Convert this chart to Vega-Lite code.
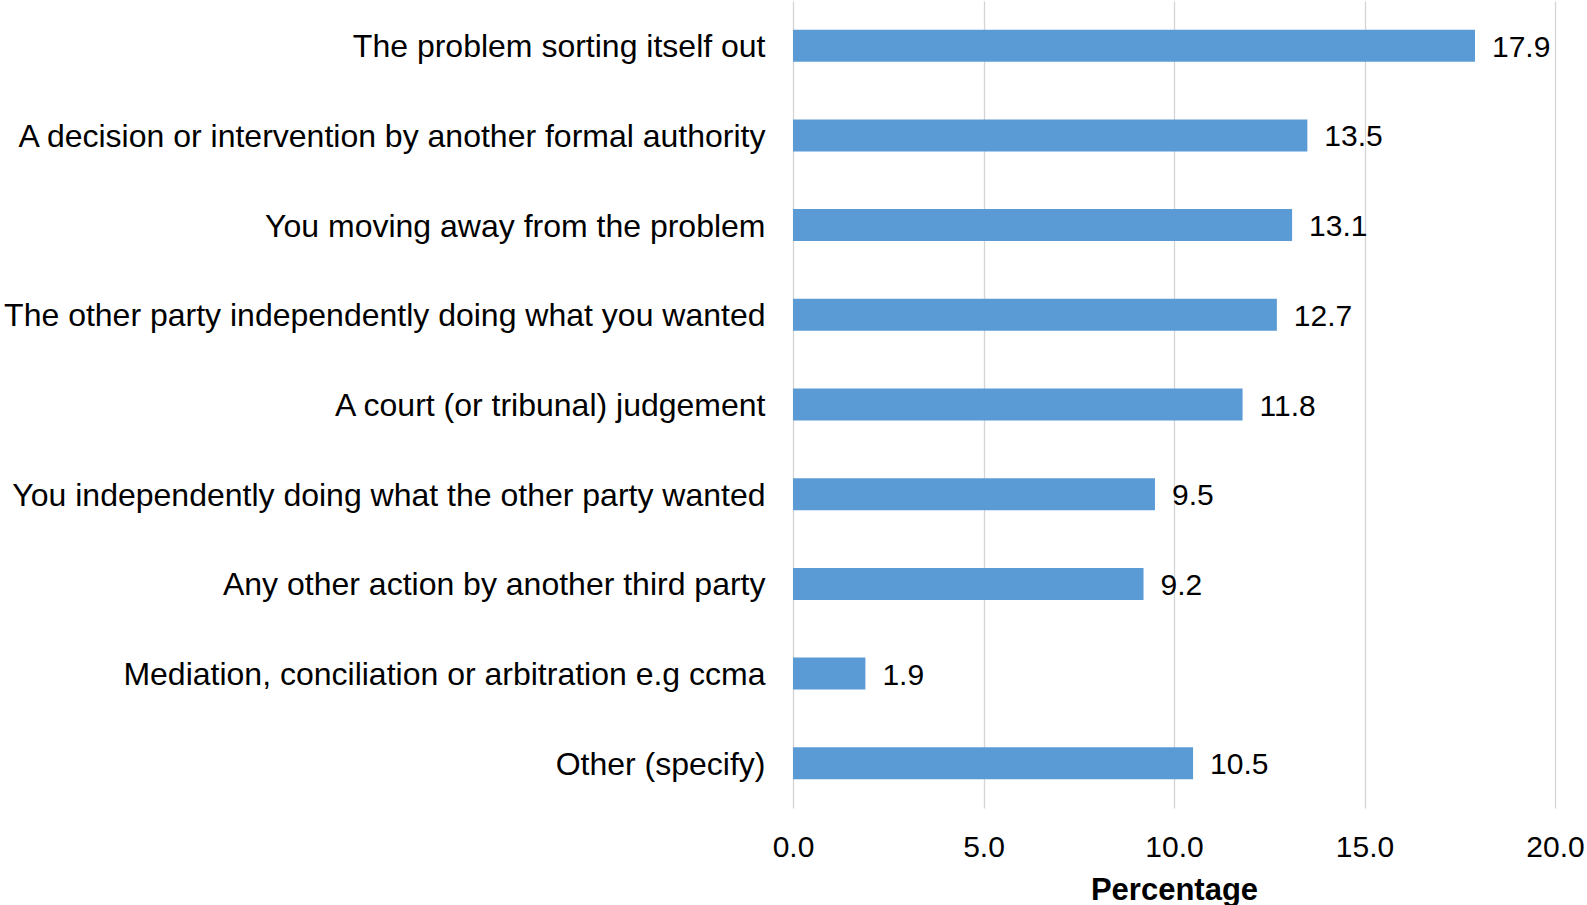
{
  "$schema": "https://vega.github.io/schema/vega-lite/v6.json",
  "autosize": "none",
  "padding": {"left": 793, "top": 1, "right": 32, "bottom": 97},
  "width": 762,
  "height": 807,
  "background": "white",
  "config": {
    "view": {"stroke": null},
    "font": "Liberation Sans"
  },
  "data": {
    "values": [
      {"outcome": "The problem sorting itself out", "pct": 17.9},
      {"outcome": "A decision or intervention by another formal authority", "pct": 13.5},
      {"outcome": "You moving away from the problem", "pct": 13.1},
      {"outcome": "The other party independently doing what you wanted", "pct": 12.7},
      {"outcome": "A court (or tribunal) judgement", "pct": 11.8},
      {"outcome": "You independently doing what the other party wanted", "pct": 9.5},
      {"outcome": "Any other action by another third party", "pct": 9.2},
      {"outcome": "Mediation, conciliation or arbitration e.g ccma", "pct": 1.9},
      {"outcome": "Other (specify)", "pct": 10.5}
    ]
  },
  "encoding": {
    "y": {
      "field": "outcome",
      "type": "nominal",
      "sort": null,
      "scale": {"paddingInner": 0.643, "paddingOuter": 0.32},
      "axis": {
        "title": null,
        "ticks": false,
        "domain": false,
        "labelFont": "Liberation Sans",
        "labelFontSize": 32,
        "labelColor": "#000000",
        "labelPadding": 28,
        "labelOffset": 1.5,
        "labelLimit": 0
      }
    },
    "x": {
      "field": "pct",
      "type": "quantitative",
      "scale": {"domain": [0, 20], "nice": false},
      "axis": {
        "title": "Percentage",
        "titleFont": "Liberation Sans",
        "titleFontSize": 31,
        "titleFontWeight": "bold",
        "titleColor": "#000000",
        "titlePadding": 13,
        "values": [0, 5, 10, 15, 20],
        "format": ".1f",
        "ticks": false,
        "domain": false,
        "grid": true,
        "gridColor": "#d4d4d4",
        "gridWidth": 1.3,
        "labelFont": "Liberation Sans",
        "labelFontSize": 30,
        "labelColor": "#000000",
        "labelPadding": 24,
        "labelFlush": false
      }
    }
  },
  "layer": [
    {
      "mark": {"type": "bar", "color": "#5b9bd5"}
    },
    {
      "mark": {
        "type": "text",
        "align": "left",
        "baseline": "middle",
        "dx": 17,
        "dy": 2,
        "font": "Liberation Sans",
        "fontSize": 30,
        "color": "#000000"
      },
      "encoding": {
        "text": {"field": "pct", "type": "quantitative", "format": ".1f"}
      }
    }
  ]
}
